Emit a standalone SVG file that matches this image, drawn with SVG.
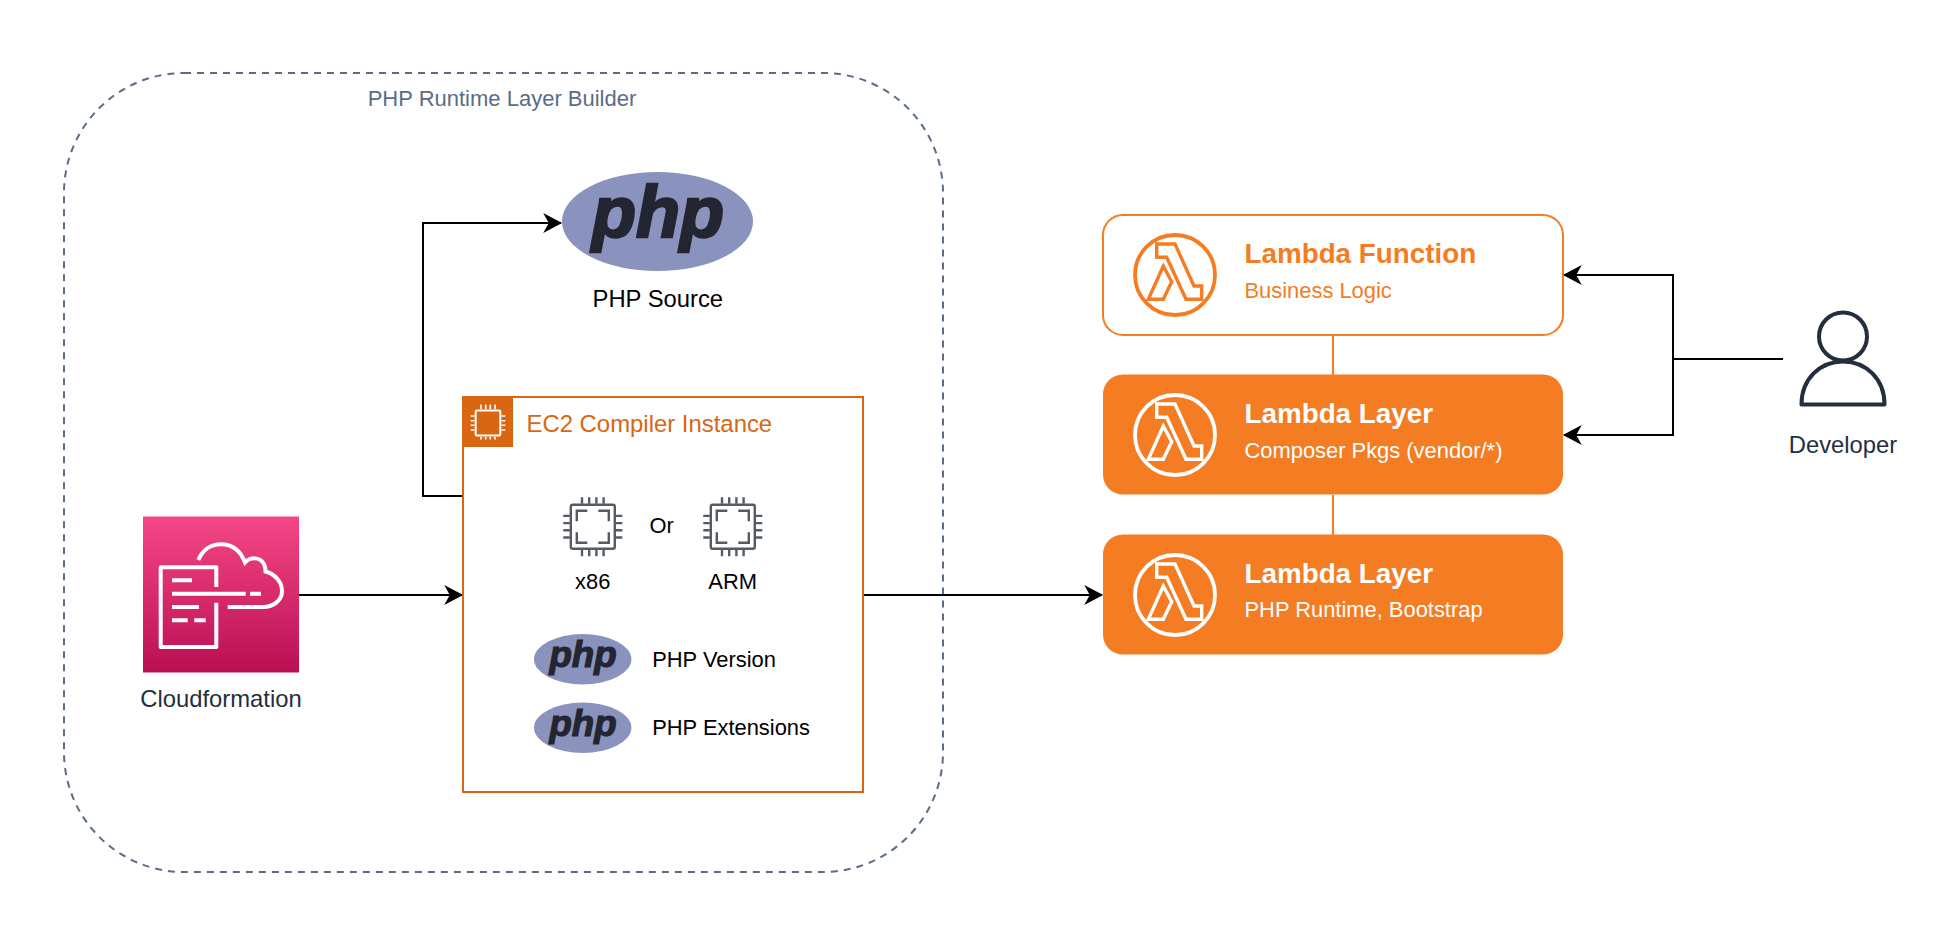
<svg xmlns="http://www.w3.org/2000/svg" xmlns:xlink="http://www.w3.org/1999/xlink" width="1950" height="944" viewBox="0 0 1950 944">
<style>
text{font-family:"Liberation Sans",Arial,sans-serif}
.conn{fill:none;stroke:#000;stroke-width:2}
.lam{fill:none;stroke-width:3.4;stroke-linejoin:miter}
.t{font-size:23.8px;fill:#000}
.s{font-size:21.9px;fill:#000}
.n{font-size:23.8px;fill:#232F3E;text-anchor:middle}
.h{font-size:27.8px;font-weight:bold}
.b{font-size:21.9px}
.mid{text-anchor:middle}
.php{font-weight:bold;font-style:italic;fill:#232531;stroke:#232531;text-anchor:middle}
.cf{fill:none;stroke:#fff;stroke-width:4}
.chip{fill:none;stroke:#545B64;stroke-width:2.4}
</style>
<defs>
<marker id="arrow" markerUnits="userSpaceOnUse" markerWidth="20" markerHeight="20" refX="16" refY="9" orient="auto" viewBox="0 0 18 18">
<path d="M17 9 L0 0 L5 9 L0 18 Z" fill="#000"/>
</marker>
<linearGradient id="cfg" x1="0" y1="0" x2="0" y2="1"><stop offset="0" stop-color="#F54787"/><stop offset="1" stop-color="#B90F52"/></linearGradient>
<g id="chipicon">
<rect class="chip" x="-22" y="-22" width="44" height="44" rx="2"/>
<path class="chip" d="M-5.500 -16H-16V-5.500M5.500 -16H16V-5.500M-16 5.500V16H-5.500M16 5.500V16H5.500M-10.800 -23V-29.500M-3.600 -23V-29.500M3.600 -23V-29.500M10.800 -23V-29.500M-10.800 23V29.500M-3.600 23V29.500M3.600 23V29.500M10.800 23V29.500M-23 -10.800H-29.500M-23 -3.600H-29.500M-23 3.600H-29.500M-23 10.800H-29.500M23 -10.800H29.500M23 -3.600H29.500M23 3.600H29.500M23 10.800H29.500"/>
</g>
<g id="lambda">
<circle cx="0" cy="0" r="40" fill="none" stroke-width="3.800"/>
<path class="lam" d="M-18.300 -31H0L19 11H26.700V24.300H11L-8.300 -17.700H-18.300Z"/>
<path class="lam" d="M-11.700 -9L-3.300 6.700L-11.700 24.300H-26.700Z"/>
</g>
</defs>
<rect width="1950" height="944" fill="#fff"/>
<g id="group-builder">
<rect x="64" y="73" width="879" height="799" rx="120" ry="120" fill="none" stroke="#5A6C86" stroke-width="2" stroke-dasharray="7 6"/>
<text x="502" y="106" font-size="22" fill="#5A6C86" text-anchor="middle">PHP Runtime Layer Builder</text>
</g>
<g id="connectors">
<path class="conn" d="M463 496H423V223H561" marker-end="url(#arrow)"/>
<path class="conn" d="M299 595H462" marker-end="url(#arrow)"/>
<path class="conn" d="M863 595H1102" marker-end="url(#arrow)"/>
<path class="conn" d="M1783 359H1673V275H1564" marker-end="url(#arrow)"/>
<path class="conn" d="M1673 359V435H1564" marker-end="url(#arrow)"/>
<path d="M1333 335V375M1333 495V535" fill="none" stroke="#F47C22" stroke-width="2"/>
</g>
<g id="node-php-source">
<ellipse cx="657.500" cy="221.500" rx="95.500" ry="49.500" fill="#8993BE"/>
<text class="php" x="658" y="237" font-size="72" stroke-width="2.500">php</text>
<text class="t mid" x="657.800" y="307.300">PHP Source</text>
</g>
<g id="node-cloudformation">
<rect x="143" y="516.500" width="156" height="156" fill="url(#cfg)"/>
<path class="cf" stroke-linejoin="round" d="M216.300 587V567.300H160.700V647H216.300V602.700"/>
<path class="cf" d="M172 580.300H192M172 593.700H245.700M250 593.700H261M172 607H199M172 620.300H187.700M194.300 620.300H205.700"/>
<path class="cf" d="M198.300 560C203 549 212 544.300 221 544.300C233 544.300 241 552 245 562.500C250 557 260 556.500 264 564C265.500 567 265.500 569 265.500 571.500C275 574 282 582 282 591C282 600 274 607 263 607H227.700"/>
<text class="n" x="221" y="707">Cloudformation</text>
</g>
<g id="node-ec2">
<rect x="463" y="397" width="400" height="395" fill="#fff" stroke="#D86613" stroke-width="2"/>
<rect x="463" y="397" width="50" height="50" fill="#D86613"/>
<g fill="none" stroke="#fff" stroke-width="2">
<rect x="475.700" y="410.500" width="24.600" height="25" rx="1"/>
<path stroke-width="1.600" d="M481 404.500V409M485.700 404.500V409M490.300 404.500V409M495 404.500V409M481 437V439.500M485.700 437V439.500M490.300 437V439.500M495 437V439.500M470.700 416H474.500M470.700 420.700H474.500M470.700 425.300H474.500M470.700 430H474.500M501.500 416H505.300M501.500 420.700H505.300M501.500 425.300H505.300M501.500 430H505.300"/>
</g>
<text x="526.500" y="431.700" font-size="23.900" fill="#D86613">EC2 Compiler Instance</text>
<use xlink:href="#chipicon" href="#chipicon" x="592.800" y="526.700"/>
<use xlink:href="#chipicon" href="#chipicon" x="732.800" y="526.700"/>
<text class="s mid" x="661.700" y="533">Or</text>
<text class="s mid" x="592.700" y="589">x86</text>
<text class="s mid" x="732.700" y="589">ARM</text>
<ellipse cx="582.700" cy="659.200" rx="48.700" ry="25.200" fill="#8993BE"/>
<text class="php" x="583" y="667" font-size="36.700" stroke-width="1.200">php</text>
<text class="s" x="652.200" y="666.700">PHP Version</text>
<ellipse cx="582.700" cy="727.700" rx="48.700" ry="25.200" fill="#8993BE"/>
<text class="php" x="583" y="735.500" font-size="36.700" stroke-width="1.200">php</text>
<text class="s" x="652.200" y="734.700">PHP Extensions</text>
</g>
<g id="node-lambda-function">
<rect x="1103" y="215" width="460" height="120" rx="20" fill="#fff" stroke="#F47C22" stroke-width="2"/>
<use xlink:href="#lambda" href="#lambda" x="1175" y="275" stroke="#F47C22"/>
<text class="h" x="1244.500" y="263" fill="#F47C22">Lambda Function</text>
<text class="b" x="1244.500" y="297.700" fill="#F47C22">Business Logic</text>
</g>
<g id="node-lambda-layer-composer">
<rect x="1103" y="374.500" width="460" height="120" rx="20" fill="#F47C22"/>
<use xlink:href="#lambda" href="#lambda" x="1175" y="435" stroke="#fff"/>
<text class="h" x="1244.500" y="423" fill="#fff">Lambda Layer</text>
<text class="b" x="1244.500" y="457.700" fill="#fff">Composer Pkgs (vendor/*)</text>
</g>
<g id="node-lambda-layer-runtime">
<rect x="1103" y="534.500" width="460" height="120" rx="20" fill="#F47C22"/>
<use xlink:href="#lambda" href="#lambda" x="1175" y="595" stroke="#fff"/>
<text class="h" x="1244.500" y="583" fill="#fff">Lambda Layer</text>
<text class="b" x="1244.500" y="617" fill="#fff">PHP Runtime, Bootstrap</text>
</g>
<g id="node-developer">
<circle cx="1843" cy="336.500" r="24" fill="none" stroke="#232F3E" stroke-width="4"/>
<path d="M1801.500 404.500H1884.500C1884.500 379 1866 361.500 1843 361.500C1820 361.500 1801.500 379 1801.500 404.500Z" fill="none" stroke="#232F3E" stroke-width="4" stroke-linejoin="round"/>
<text class="n" x="1843" y="453">Developer</text>
</g>
</svg>
